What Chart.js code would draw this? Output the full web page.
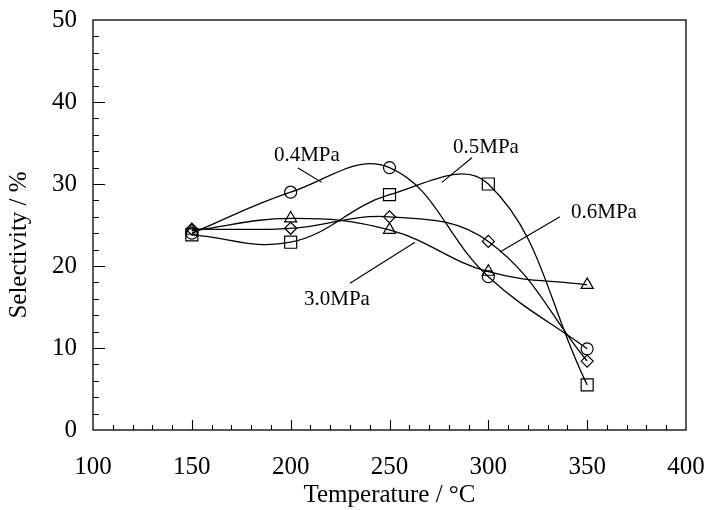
<!DOCTYPE html>
<html>
<head>
<meta charset="utf-8">
<script src="https://cdn.jsdelivr.net/npm/chart.js@4.4.1/dist/chart.umd.min.js"></script>
<style>
  html, body { margin: 0; padding: 0; background: #fff; }
  #wrap { width: 708px; height: 510px; }
</style>
</head>
<body>
<div id="wrap"><canvas id="selChart" width="708" height="510"></canvas></div>
<script>
// temperature (°C) and selectivity (%)
const temps = [150, 200, 250, 300, 350];
const sel04 = [24.0, 29.0, 32.0, 18.7, 9.9];   // 0.4MPa, circles
const sel05 = [23.8, 22.9, 28.7, 30.0, 5.5];   // 0.5MPa, squares
const sel06 = [24.5, 24.6, 26.0, 23.0, 8.4];   // 0.6MPa, diamonds
const sel30 = [24.3, 25.8, 24.4, 19.3, 17.7];  // 3.0MPa, triangles

const xTicks = [100, 150, 200, 250, 300, 350, 400];
const yTicks = [0, 10, 20, 30, 40, 50];

// curve labels and their leader lines, in data units
const labelText = ['0.4MPa', '0.5MPa', '0.6MPa', '3.0MPa'];
const labelAt = [[208.2, 33.5], [298.8, 34.5], [358.5, 26.5], [223.4, 15.9]];
const leaders = [
  [[203.7, 31.95], [215.8, 30.2]],
  [[291.7, 33.2], [276.5, 30.2]],
  [[336.2, 26.0], [305.9, 21.7]],
  [[230.0, 17.9], [262.9, 22.9]]
];

const serif = '"Liberation Serif", "DejaVu Serif", serif';

const pts = ys => temps.map((t, i) => ({ x: t, y: ys[i] }));

function series(label, ys, style, r) {
  return {
    label: label,
    data: pts(ys),
    borderColor: '#000',
    borderWidth: 1.3,
    tension: 0.4,
    fill: false,
    pointStyle: style,
    pointRadius: r,
    pointHoverRadius: r,
    pointBorderColor: '#000',
    pointBackgroundColor: 'rgba(0,0,0,0)',
    pointBorderWidth: 1.2
  };
}

// frame, inward ticks, axis title on y, and curve labels
const decor = {
  id: 'decor',
  afterDatasetsDraw(chart) {
    const { ctx, chartArea: a, scales: { x, y } } = chart;
    ctx.save();
    ctx.strokeStyle = '#000';
    ctx.lineWidth = 1.3;
    ctx.strokeRect(a.left, a.top, a.right - a.left, a.bottom - a.top);

    ctx.lineWidth = 1.1;
    ctx.beginPath();
    for (let v = 110; v < 400; v += 10) {
      const px = Math.round(x.getPixelForValue(v)) + 0.5;
      const len = v % 50 === 0 ? 10 : 5;
      ctx.moveTo(px, a.bottom);
      ctx.lineTo(px, a.bottom - len);
    }
    for (let v = 2; v < 50; v += 2) {
      const py = Math.round(y.getPixelForValue(v)) + 0.5;
      const len = v % 10 === 0 ? 12 : 6;
      ctx.moveTo(a.left, py);
      ctx.lineTo(a.left + len, py);
    }
    ctx.stroke();

    ctx.lineWidth = 1.1;
    ctx.beginPath();
    leaders.forEach(l => {
      ctx.moveTo(x.getPixelForValue(l[0][0]), y.getPixelForValue(l[0][1]));
      ctx.lineTo(x.getPixelForValue(l[1][0]), y.getPixelForValue(l[1][1]));
    });
    ctx.stroke();

    ctx.fillStyle = '#000';
    ctx.font = '21px ' + serif;
    ctx.textAlign = 'center';
    ctx.textBaseline = 'middle';
    labelText.forEach((t, i) => {
      ctx.fillText(t, x.getPixelForValue(labelAt[i][0]), y.getPixelForValue(labelAt[i][1]));
    });

    ctx.font = '25px ' + serif;
    ctx.translate(19, 245);
    ctx.rotate(-Math.PI / 2);
    ctx.fillText('Selectivity / %', 0, 0);
    ctx.restore();
  }
};

new Chart(document.getElementById('selChart').getContext('2d'), {
  type: 'line',
  data: {
    datasets: [
      series('0.4MPa', sel04, 'circle', 6),
      series('0.5MPa', sel05, 'rect', 8.5),
      series('0.6MPa', sel06, 'rectRot', 6),
      series('3.0MPa', sel30, 'triangle', 7)
    ]
  },
  options: {
    responsive: false,
    animation: false,
    layout: { padding: { left: 0, right: 22, top: 20, bottom: 0 } },
    plugins: {
      legend: { display: false },
      tooltip: { enabled: false }
    },
    scales: {
      x: {
        type: 'linear',
        min: 100,
        max: 400,
        afterBuildTicks: s => { s.ticks = xTicks.map(v => ({ value: v })); },
        afterFit: s => { s.height = 80; s.paddingLeft = 0; s.paddingRight = 0; },
        grid: { display: false, drawTicks: false },
        border: { display: false },
        ticks: { color: '#000', padding: 22, font: { family: serif, size: 25 }, maxRotation: 0 },
        title: {
          display: true,
          text: 'Temperature / °C',
          color: '#000',
          font: { family: serif, size: 25 },
          padding: { top: 0, bottom: 0 }
        }
      },
      y: {
        min: 0,
        max: 50,
        afterBuildTicks: s => { s.ticks = yTicks.map(v => ({ value: v })); },
        afterFit: s => { s.width = 93; s.paddingTop = 0; s.paddingBottom = 0; },
        grid: { display: false, drawTicks: false },
        border: { display: false },
        ticks: { color: '#000', padding: 16, font: { family: serif, size: 25 } }
      }
    }
  },
  plugins: [decor]
});
</script>
</body>
</html>
